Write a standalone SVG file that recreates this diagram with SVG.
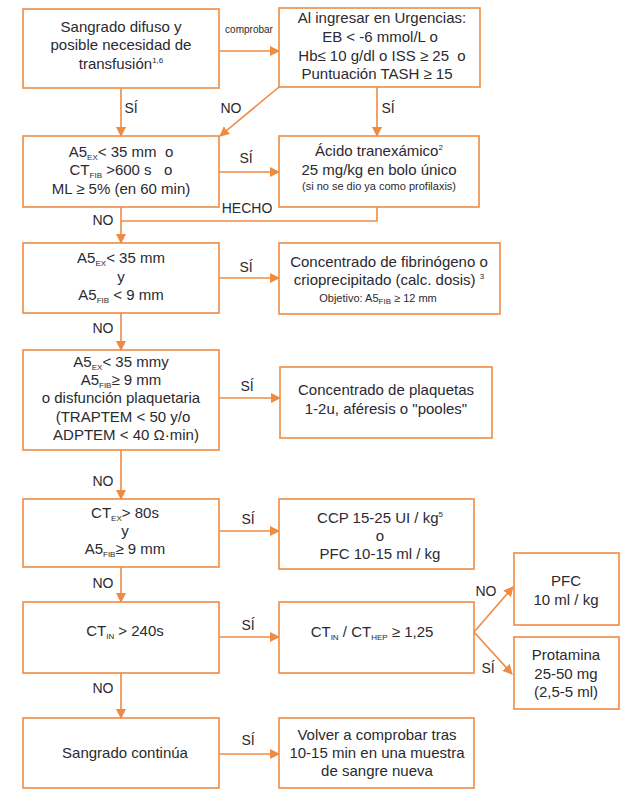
<svg xmlns="http://www.w3.org/2000/svg" width="625" height="789" viewBox="0 0 625 789">
<style>
.box{fill:#fff;stroke:#EF8A43;stroke-width:1.6}
.t{font-family:"Liberation Sans",Arial,sans-serif;font-size:15px;fill:#2a2a30;text-anchor:middle;white-space:pre}
.s{font-size:11px}
.sub{font-size:8px}
.lbl{font-family:"Liberation Sans",Arial,sans-serif;font-size:14px;fill:#2a2a30;text-anchor:middle}
.c{fill:none;stroke:#EF8A43;stroke-width:1.6}
</style>
<defs>
<marker id="ah" markerWidth="10" markerHeight="10" refX="9" refY="5" orient="auto" markerUnits="userSpaceOnUse">
<path d="M0,0 L10,5 L0,10 Z" fill="#EF8A43"/>
</marker>
</defs>
<rect width="625" height="789" fill="#fff"/>
<g id="connectors">
<line class="c" x1="219" y1="51" x2="279" y2="51" marker-end="url(#ah)"/>
<line class="c" x1="121" y1="88" x2="121" y2="136" marker-end="url(#ah)"/>
<line class="c" x1="279" y1="87" x2="220" y2="136" marker-end="url(#ah)"/>
<line class="c" x1="377" y1="87" x2="377" y2="136" marker-end="url(#ah)"/>
<line class="c" x1="219" y1="172" x2="279" y2="172" marker-end="url(#ah)"/>
<polyline class="c" points="377,207 377,221 121,221"/>
<line class="c" x1="121" y1="207" x2="121" y2="243" marker-end="url(#ah)"/>
<line class="c" x1="219" y1="278" x2="279" y2="278" marker-end="url(#ah)"/>
<line class="c" x1="121" y1="313" x2="121" y2="350" marker-end="url(#ah)"/>
<line class="c" x1="219" y1="398" x2="280" y2="398" marker-end="url(#ah)"/>
<line class="c" x1="121" y1="450" x2="121" y2="499" marker-end="url(#ah)"/>
<line class="c" x1="219" y1="531" x2="279" y2="531" marker-end="url(#ah)"/>
<line class="c" x1="121" y1="567" x2="121" y2="602" marker-end="url(#ah)"/>
<line class="c" x1="219" y1="637" x2="279" y2="637" marker-end="url(#ah)"/>
<line class="c" x1="474" y1="632" x2="513" y2="587" marker-end="url(#ah)"/>
<line class="c" x1="474" y1="632" x2="512" y2="674" marker-end="url(#ah)"/>
<line class="c" x1="121" y1="673" x2="121" y2="718" marker-end="url(#ah)"/>
<line class="c" x1="219" y1="754" x2="279" y2="754" marker-end="url(#ah)"/>
<text class="lbl" x="249" y="33" style="font-size:10px">comprobar</text>
<text class="lbl" x="131" y="113">SÍ</text>
<text class="lbl" x="231" y="113">NO</text>
<text class="lbl" x="388" y="113">SÍ</text>
<text class="lbl" x="246" y="163">SÍ</text>
<text class="lbl" x="247" y="213">HECHO</text>
<text class="lbl" x="103" y="225">NO</text>
<text class="lbl" x="246" y="272">SÍ</text>
<text class="lbl" x="103" y="333">NO</text>
<text class="lbl" x="247" y="391">SÍ</text>
<text class="lbl" x="103" y="486">NO</text>
<text class="lbl" x="248" y="524">SÍ</text>
<text class="lbl" x="103" y="588">NO</text>
<text class="lbl" x="248" y="630">SÍ</text>
<text class="lbl" x="486" y="596">NO</text>
<text class="lbl" x="488" y="673">SÍ</text>
<text class="lbl" x="103" y="693">NO</text>
<text class="lbl" x="248" y="745">SÍ</text>
</g>
<g id="n1">
<rect class="box" x="23" y="9" width="196" height="79"/>
<text class="t" x="121" y="32">Sangrado difuso y</text>
<text class="t" x="121" y="50">posible necesidad de</text>
<text class="t" x="121" y="69">transfusión<tspan class="sub" dy="-6">1,6</tspan></text>
</g>
<g id="n2">
<rect class="box" x="279" y="8" width="201" height="79"/>
<text class="t" x="382" y="23">Al ingresar en Urgencias:</text>
<text class="t" x="380" y="42">EB &lt; -6 mmol/L o</text>
<text class="t" x="382" y="61">Hb≤ 10 g/dl o ISS ≥ 25  o</text>
<text class="t" x="377" y="79">Puntuación TASH ≥ 15</text>
</g>
<g id="n3">
<rect class="box" x="23" y="136" width="196" height="71"/>
<text class="t" x="121" y="157">A5<tspan class="sub" dy="3">EX</tspan><tspan dy="-3">&lt; 35 mm  o</tspan></text>
<text class="t" x="121" y="175">CT<tspan class="sub" dy="3">FIB</tspan><tspan dy="-3"> &gt;600 s   o</tspan></text>
<text class="t" x="121" y="194">ML ≥ 5% (en 60 min)</text>
</g>
<g id="n4">
<rect class="box" x="279" y="136" width="200" height="71"/>
<text class="t" x="379" y="156">Ácido tranexámico<tspan class="sub" dy="-6">2</tspan></text>
<text class="t" x="379" y="175">25 mg/kg en bolo único</text>
<text class="t s" x="379" y="190">(si no se dio ya como profilaxis)</text>
</g>
<g id="n5">
<rect class="box" x="23" y="243" width="196" height="70"/>
<text class="t" x="121" y="263">A5<tspan class="sub" dy="3">EX</tspan><tspan dy="-3">&lt; 35 mm</tspan></text>
<text class="t" x="121" y="282">y</text>
<text class="t" x="121" y="300">A5<tspan class="sub" dy="3">FIB</tspan><tspan dy="-3"> &lt; 9 mm</tspan></text>
</g>
<g id="n6">
<rect class="box" x="279" y="243" width="221" height="71"/>
<text class="t" x="389" y="267">Concentrado de fibrinógeno o</text>
<text class="t" x="389" y="285">crioprecipitado (calc. dosis) <tspan class="sub" dy="-6">3</tspan></text>
<text class="t s" x="378" y="302">Objetivo: A5<tspan class="sub" dy="2">FIB</tspan><tspan dy="-2"> ≥ 12 mm</tspan></text>
</g>
<g id="n7">
<rect class="box" x="23" y="350" width="196" height="100"/>
<text class="t" x="121" y="367">A5<tspan class="sub" dy="3">EX</tspan><tspan dy="-3">&lt; 35 mmy</tspan></text>
<text class="t" x="121" y="385">A5<tspan class="sub" dy="3">FIB</tspan><tspan dy="-3">≥ 9 mm</tspan></text>
<text class="t" x="121" y="403">o disfunción plaquetaria</text>
<text class="t" x="123" y="422">(TRAPTEM &lt; 50 y/o</text>
<text class="t" x="126" y="440">ADPTEM &lt; 40 Ω·min)</text>
</g>
<g id="n8">
<rect class="box" x="280" y="367" width="212" height="71"/>
<text class="t" x="386" y="395">Concentrado de plaquetas</text>
<text class="t" x="386" y="414">1-2u, aféresis o "pooles"</text>
</g>
<g id="n9">
<rect class="box" x="23" y="499" width="196" height="68"/>
<text class="t" x="125" y="518">CT<tspan class="sub" dy="3">EX</tspan><tspan dy="-3">&gt; 80s</tspan></text>
<text class="t" x="125" y="536">y</text>
<text class="t" x="125" y="554">A5<tspan class="sub" dy="3">FIB</tspan><tspan dy="-3">≥ 9 mm</tspan></text>
</g>
<g id="n10">
<rect class="box" x="279" y="499" width="195" height="70"/>
<text class="t" x="380" y="523">CCP 15-25 UI / kg<tspan class="sub" dy="-6">5</tspan></text>
<text class="t" x="380" y="541">o</text>
<text class="t" x="380" y="559">PFC 10-15 ml / kg</text>
</g>
<g id="n11">
<rect class="box" x="23" y="602" width="196" height="71"/>
<text class="t" x="125" y="636">CT<tspan class="sub" dy="3">IN</tspan><tspan dy="-3"> &gt; 240s</tspan></text>
</g>
<g id="n12">
<rect class="box" x="279" y="602" width="195" height="71"/>
<text class="t" x="372" y="637">CT<tspan class="sub" dy="3">IN</tspan><tspan dy="-3"> / CT</tspan><tspan class="sub" dy="3">HEP</tspan><tspan dy="-3"> ≥ 1,25</tspan></text>
</g>
<g id="n13">
<rect class="box" x="514" y="553" width="105" height="72"/>
<text class="t" x="566" y="586">PFC</text>
<text class="t" x="566" y="605">10 ml / kg</text>
</g>
<g id="n14">
<rect class="box" x="514" y="637" width="105" height="72"/>
<text class="t" x="566" y="660">Protamina</text>
<text class="t" x="566" y="679">25-50 mg</text>
<text class="t" x="566" y="697">(2,5-5 ml)</text>
</g>
<g id="n15">
<rect class="box" x="23" y="718" width="196" height="70"/>
<text class="t" x="125" y="758">Sangrado continúa</text>
</g>
<g id="n16">
<rect class="box" x="279" y="718" width="195" height="70"/>
<text class="t" x="377" y="740">Volver a comprobar tras</text>
<text class="t" x="377" y="758">10-15 min en una muestra</text>
<text class="t" x="377" y="776">de sangre nueva</text>
</g>
</svg>
